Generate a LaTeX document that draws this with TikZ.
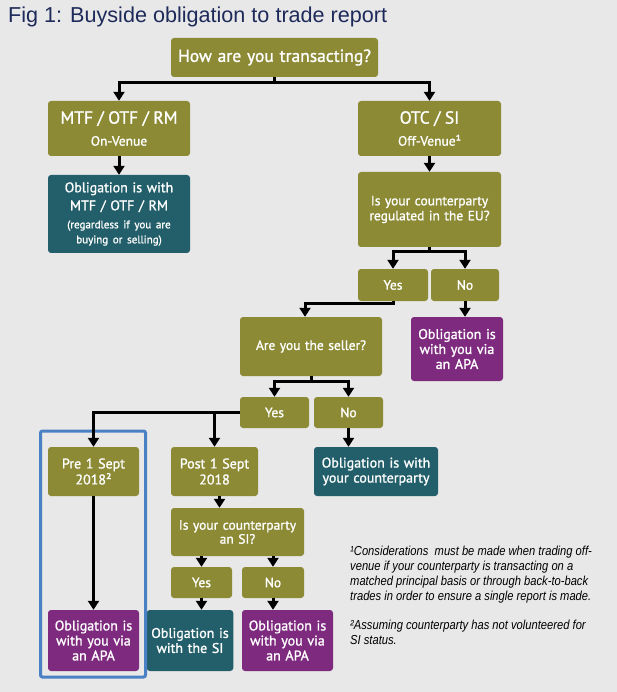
\documentclass[tikz,border=0pt]{standalone}
\usepackage{fontspec}
\setmainfont{Liberation Sans}
\newfontfamily\boxfont[FakeBold=1.2]{PT Sans}
\newfontfamily\notefont[FakeStretch=0.86]{Liberation Sans}
\usetikzlibrary{arrows.meta}
\definecolor{pagegrey}{HTML}{E8E8E8}
\definecolor{titlenavy}{HTML}{1E2A5A}
\definecolor{qolive}{HTML}{8C8A35}
\definecolor{oteal}{HTML}{235F6A}
\definecolor{opurple}{HTML}{7E2B7F}
\definecolor{frameblue}{HTML}{4A80C4}
\tikzset{
  qbox/.style={fill=qolive},
  tbox/.style={fill=oteal, font=\boxfont\fontsize{14}{15}\selectfont},
  pbox/.style={fill=opurple, font=\boxfont\fontsize{14}{15}\selectfont},
  wh/.style 2 args={text width=#1pt, minimum height=#2pt},
  arr/.style={line width=3pt, -{Triangle[width=11pt,length=9pt]}}
}

\begin{document}
\begin{tikzpicture}[x=1pt, y=-1pt, every node/.style={inner sep=0pt, align=center, text=white, rounded corners=3pt, font=\boxfont\fontsize{13.5}{15}\selectfont}]
  \fill[pagegrey] (0,0) rectangle (617,692);
  \node[anchor=base west, text=titlenavy, font=\fontsize{21.6}{22}\selectfont] (title) at (8,23) {Fig 1: Buyside obligation to trade report};

  \node[qbox, wh={207}{39}, font=\boxfont\fontsize{17.5}{20}\selectfont] (how) at (274.5,57.5) {How are you transacting?};
  \node[qbox, wh={142}{55}] (mtf) at (119,128.5) {{\fontsize{17.5}{17}\selectfont MTF / OTF / RM}\\[7pt]On-Venue};
  \node[tbox, wh={142}{78}] (onven) at (119,214) {Obligation is with\\[3pt]MTF / OTF / RM\\[5pt]\fontsize{11}{13}\selectfont(regardless if you are\\buying or selling)};
  \node[qbox, wh={143}{55}] (otc) at (429.5,128.5) {{\fontsize{17.5}{17}\selectfont OTC / SI}\\[7pt]Off-Venue¹};
  \node[qbox, wh={143}{75}] (reg) at (429.5,209.5) {Is your counterparty\\regulated in the EU?};
  \node[qbox, wh={70}{32}] (yes1) at (393,285) {Yes};
  \node[qbox, wh={68}{32}] (no1) at (465,285) {No};
  \node[pbox, wh={92}{64}] (apa1) at (457,349) {Obligation is\\with you via\\an APA};
  \node[qbox, wh={142}{59}] (seller) at (311,346.5) {Are you the seller?};
  \node[qbox, wh={69}{31}] (yes2) at (274.5,412.5) {Yes};
  \node[qbox, wh={69}{31}] (no2) at (348.5,412.5) {No};
  \node[tbox, wh={124}{49}] (cpty) at (376,471.5) {Obligation is with\\your counterparty};
  \node[qbox, wh={91}{49}, font=\boxfont\fontsize{14}{16}\selectfont] (pre) at (93.5,471.5) {Pre 1 Sept\\2018²};
  \node[qbox, wh={87}{49}, font=\boxfont\fontsize{14}{16}\selectfont] (post) at (214.5,471.5) {Post 1 Sept\\2018};
  \node[qbox, wh={133}{48}, font=\boxfont\fontsize{13.5}{14}\selectfont] (siq) at (237.5,532) {Is your counterparty\\an SI?};
  \node[qbox, wh={61}{31}] (yes3) at (201.5,582.5) {Yes};
  \node[qbox, wh={62}{31}] (no3) at (273,582.5) {No};
  \node[pbox, wh={91}{61}] (apa2) at (93.5,640.5) {Obligation is\\with you via\\an APA};
  \node[tbox, wh={86.5}{61}] (withsi) at (190,640.5) {Obligation is\\with the SI};
  \node[pbox, wh={91}{61}] (apa3) at (287.5,640.5) {Obligation is\\with you via\\an APA};
  \draw[frameblue, line width=3pt, rounded corners=2pt] (40.5,431) rectangle (145.5,677);

  \draw[arr] (how.south) -- ++(0,5) -| (mtf.north);
  \draw[arr] (how.south) -- ++(0,5) -| (otc.north);
  \draw[arr] (mtf.south) -- (onven.north);
  \draw[arr] (otc.south) -- (reg.north);
  \draw[arr] (reg.south) -- ++(0,4) -| (yes1.north);
  \draw[arr] (reg.south) -- ++(0,4) -| (no1.north);
  \draw[arr] (yes1.south) -- ++(0,2) -| ([xshift=-6pt]seller.north);
  \draw[arr] (no1.south) -- (no1.south |- apa1.north);
  \draw[arr] (seller.south) -- ++(0,5) -| (yes2.north);
  \draw[arr] (seller.south) -- ++(0,5) -| (no2.north);
  \draw[arr] (yes2.west) -| (pre.north);
  \draw[arr] (yes2.west) -| (post.north);
  \draw[arr] (no2.south) -- (no2.south |- cpty.north);
  \draw[arr] (pre.south) -- (apa2.north);
  \draw[arr] ([xshift=5pt]post.south) -- ([xshift=5pt]post.south |- siq.north);
  \draw[arr] (yes3.north |- siq.south) -- (yes3.north);
  \draw[arr] (no3.north |- siq.south) -- (no3.north);
  \draw[arr] (yes3.south) -- (yes3.south |- withsi.north);
  \draw[arr] (no3.south) -- (no3.south |- apa3.north);

  \node[anchor=north west, align=left, text=black, font=\notefont\itshape\fontsize{13}{15}\selectfont] (notes) at (350,546) {¹Considerations\ \ must be made when trading off-\\venue if your counterparty is transacting on a\\matched principal basis or through back-to-back\\trades in order to ensure a single report is made.\\[14pt]²Assuming counterparty has not volunteered for\\SI status.};
\end{tikzpicture}
\end{document}
